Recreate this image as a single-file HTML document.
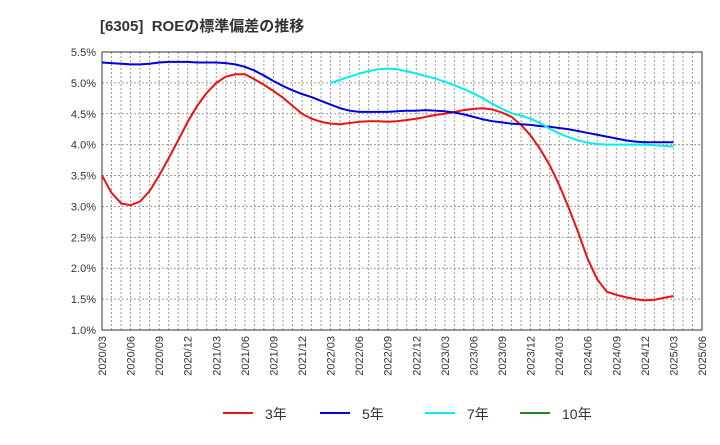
<!DOCTYPE html>
<html><head><meta charset="utf-8"><style>
body{margin:0;background:#fff;font-family:"Liberation Sans","Noto Sans CJK JP",sans-serif}
</style></head><body>
<svg id="c" width="720" height="440" xmlns="http://www.w3.org/2000/svg">
<text x="100" y="31" font-size="15" font-weight="bold" fill="#333" font-family="Liberation Sans,Noto Sans CJK JP,sans-serif">[6305]&#160;&#160;ROEの標準偏差の推移</text>
<g id="grid"></g><g id="axes"></g><g id="series"></g><g id="legend"></g>
</svg>
<script>
const xLabels=["2020/03","2020/06","2020/09","2020/12","2021/03","2021/06","2021/09","2021/12","2022/03","2022/06","2022/09","2022/12","2023/03","2023/06","2023/09","2023/12","2024/03","2024/06","2024/09","2024/12","2025/03","2025/06"];
const yTicks=[1.0,1.5,2.0,2.5,3.0,3.5,4.0,4.5,5.0,5.5];
const s3=[3.5,3.22,3.05,3.02,3.08,3.25,3.5,3.78,4.07,4.37,4.63,4.84,5.0,5.1,5.14,5.14,5.06,4.97,4.87,4.76,4.63,4.5,4.42,4.37,4.34,4.33,4.35,4.37,4.38,4.38,4.37,4.38,4.40,4.42,4.45,4.48,4.50,4.53,4.56,4.58,4.59,4.57,4.52,4.45,4.32,4.15,3.93,3.67,3.35,2.98,2.58,2.15,1.82,1.62,1.57,1.53,1.50,1.48,1.49,1.52,1.55];
const s5=[5.33,5.32,5.31,5.30,5.30,5.31,5.33,5.34,5.34,5.34,5.33,5.33,5.33,5.32,5.30,5.26,5.20,5.12,5.03,4.95,4.88,4.82,4.77,4.71,4.65,4.59,4.55,4.53,4.53,4.53,4.53,4.54,4.55,4.55,4.56,4.55,4.54,4.52,4.49,4.45,4.41,4.38,4.36,4.34,4.33,4.32,4.30,4.29,4.27,4.25,4.22,4.19,4.16,4.13,4.10,4.07,4.05,4.04,4.04,4.04,4.04];
const s7start=24;
const s7=[5.00,5.05,5.10,5.15,5.19,5.22,5.23,5.22,5.19,5.15,5.11,5.07,5.02,4.96,4.90,4.83,4.75,4.66,4.58,4.51,4.47,4.42,4.35,4.26,4.18,4.12,4.07,4.03,4.01,4.00,4.00,4.00,4.00,4.00,3.99,3.98,3.97];
const L=102,R=702,T=52,B=330,NS="http://www.w3.org/2000/svg";
const x=i=>L+i*(R-L)/63;
const y=v=>B-(v-1.0)*(B-T)/4.5;
function mk(t,a,p){const e=document.createElementNS(NS,t);for(const k in a)e.setAttribute(k,a[k]);p.appendChild(e);return e;}
const g=document.getElementById('grid'),ax=document.getElementById('axes'),se=document.getElementById('series'),lg=document.getElementById('legend');
for(let i=1;i<63;i++){const l=mk('line',{x1:x(i),x2:x(i),y1:T,y2:B,stroke:'#999','stroke-dasharray':'2,2','stroke-width':1},g);

}
yTicks.forEach(v=>{const l=mk('line',{x1:L,x2:R,y1:y(v),y2:y(v),stroke:'#999','stroke-dasharray':'2,2','stroke-width':1},g);


const t=mk('text',{x:L-6,y:y(v)+4,'text-anchor':'end','font-size':11,fill:'#333'},ax);t.textContent=v.toFixed(1)+'%';

});
const fr=mk('rect',{x:L,y:T,width:R-L,height:B-T,fill:'none',stroke:'#333','stroke-width':1},ax);


xLabels.forEach((s,i)=>{const xx=x(i*3);const t=mk('text',{x:0,y:0,'text-anchor':'end','font-size':11,fill:'#333',transform:`translate(${xx+4},${B+6}) rotate(-90)`},ax);t.textContent=s;

});
function line(arr,off,col,name){const p=mk('polyline',{points:arr.map((v,i)=>x(i+off)+','+y(v)).join(' '),fill:'none',stroke:col,'stroke-width':2,'stroke-linejoin':'round'},se);

}
line(s3,0,'#ee1111','series-3yr');line(s5,0,'#0000dd','series-5yr');line(s7,s7start,'#00eeee','series-7yr');
[['3年','#ee1111',223],['5年','#0000dd',320],['7年','#00eeee',425],['10年','#228822',520]].forEach(([n,c,lx])=>{
const l=mk('line',{x1:lx,x2:lx+30,y1:413,y2:413,stroke:c,'stroke-width':2},lg);


const t=mk('text',{x:lx+42,y:419,'font-size':14,fill:'#333'},lg);t.textContent=n;

});
</script>
</body></html>
